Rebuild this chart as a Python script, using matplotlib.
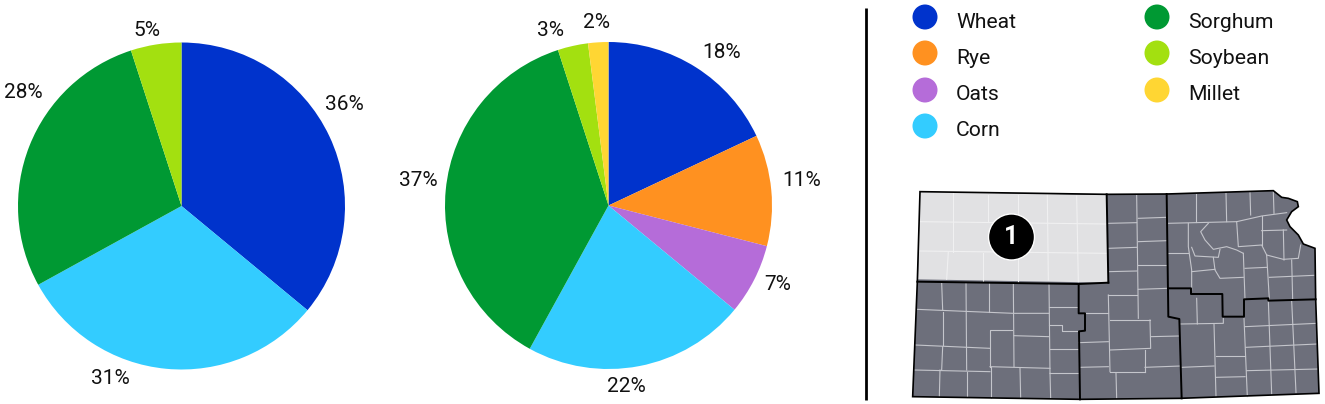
import matplotlib
matplotlib.use('Agg')
import matplotlib.pyplot as plt
import matplotlib.patches as patches

W, H = 1325, 404
plt.rcParams['font.family'] = ['Roboto', 'DejaVu Sans']

# data
crops = ['Wheat', 'Rye', 'Oats', 'Corn', 'Sorghum', 'Soybean', 'Millet']
crop_colors = ['#0033cc', '#ff9120', '#b56cd9', '#33ccff', '#009933', '#a3e010', '#ffd633']
left_values = [36, 0, 0, 31, 28, 5, 0]
right_values = [18, 11, 7, 22, 37, 3, 2]

# label positions in image pixels
left_label_xy = [(344, 105), None, None, (110, 379), (23, 93), (147, 30), None]
right_label_xy = [(722, 52), (802, 181), (778, 284), (626, 386), (418, 180), (550, 31), (597, 22)]
legend_xy = [(925, 17), (925, 53), (925, 90), (925, 126), (1157, 17), (1157, 53), (1157, 90)]

# map outlines, in coordinates of a 3x crop starting at (890, 170)
state_outline = [(90, 65), (650, 73), (830, 72), (1150, 62), (1175, 82), (1195, 85), (1222, 95), (1225, 110),
                 (1205, 125), (1190, 150), (1200, 170), (1225, 195), (1240, 222), (1275, 235), (1277, 388),
                 (1287, 670), (870, 685), (570, 688), (68, 680), (82, 335)]
region_one = [(90, 65), (650, 75), (655, 338), (84, 328)]
district_lines = [
    [(650, 73), (655, 338)],
    [(82, 335), (566, 342), (655, 338)],
    [(566, 342), (566, 430), (585, 430), (585, 482), (567, 484), (570, 688)],
    [(830, 72), (835, 440), (868, 447), (875, 685)],
    [(835, 355), (903, 355), (903, 372), (997, 372), (998, 440), (1062, 440), (1062, 388), (1135, 385),
     (1135, 392), (1277, 388)],
]
region_one_counties = [
    [(190, 70), (190, 245)], [(295, 75), (295, 155)], [(385, 75), (385, 335)], [(472, 75), (475, 330)],
    [(560, 78), (565, 335)], [(90, 155), (650, 162)], [(88, 243), (650, 250)], [(175, 245), (170, 328)],
    [(280, 250), (280, 332)],
]
county_lines = [
    [(155, 338), (158, 420)], [(228, 340), (230, 600)], [(298, 340), (298, 425)], [(370, 342), (372, 590)],
    [(477, 342), (480, 610)], [(80, 418), (370, 430), (477, 430)], [(477, 410), (560, 410)],
    [(477, 465), (515, 465), (515, 483), (567, 483)], [(160, 425), (160, 525)], [(300, 590), (300, 480), (365, 480)],
    [(372, 497), (477, 500)], [(480, 538), (567, 538)], [(480, 608), (567, 608)], [(76, 525), (300, 535)],
    [(158, 530), (155, 600)], [(72, 600), (300, 605)], [(300, 590), (480, 595)], [(150, 600), (148, 680)],
    [(232, 605), (232, 682)], [(302, 590), (302, 685)], [(390, 595), (392, 685)], [(480, 610), (482, 685)],
    [(740, 75), (745, 445)], [(655, 160), (740, 158)], [(745, 145), (828, 142)], [(655, 235), (740, 232)],
    [(745, 215), (830, 212)], [(655, 305), (740, 303)], [(745, 285), (830, 285)], [(655, 375), (740, 375)],
    [(745, 358), (832, 355)], [(655, 375), (660, 605)], [(566, 430), (655, 430)], [(567, 518), (655, 515)],
    [(570, 592), (655, 590)], [(660, 450), (780, 450)], [(780, 450), (782, 535), (660, 540)],
    [(782, 500), (868, 498)], [(765, 540), (765, 605)], [(660, 605), (765, 605)], [(765, 592), (872, 588)],
    [(678, 610), (680, 685)],
    [(918, 72), (918, 155)], [(1008, 70), (1010, 155)], [(1080, 68), (1082, 135)], [(1150, 65), (1152, 130)],
    [(832, 160), (1040, 155), (1115, 138), (1190, 128)], [(895, 160), (895, 230), (905, 300), (905, 360)],
    [(833, 248), (895, 248)], [(955, 160), (932, 185), (945, 210), (970, 238), (1010, 230), (1040, 240), (1060, 250)],
    [(1040, 155), (1045, 230), (1115, 225), (1130, 255), (1180, 268), (1225, 265), (1232, 225)],
    [(905, 232), (915, 258), (985, 262), (990, 238)], [(970, 262), (975, 300), (990, 325), (1060, 322)],
    [(905, 305), (975, 298)], [(1060, 250), (1065, 388)], [(1065, 295), (1130, 292)], [(1115, 138), (1115, 225)],
    [(1115, 182), (1190, 180)], [(1180, 180), (1182, 270)], [(1130, 255), (1138, 388)], [(1138, 322), (1272, 316)],
    [(1205, 270), (1208, 388)],
    [(920, 385), (922, 462)], [(872, 462), (1000, 460), (1000, 445)], [(972, 462), (978, 680)],
    [(978, 558), (1065, 558)], [(978, 622), (1065, 620)], [(1062, 445), (1072, 680)], [(1065, 470), (1280, 460)],
    [(1068, 532), (1282, 522)], [(1070, 602), (1285, 597)], [(1135, 392), (1145, 672)], [(1205, 392), (1218, 668)],
    [(875, 592), (972, 588)],
]


def map_xy(pts):
    return [(890 + x / 3, 170 + y / 3) for x, y in pts]


def draw_pie(fig, values, cx, cy, r):
    ax = fig.add_axes([(cx - r) / W, 1 - (cy + r) / H, 2 * r / W, 2 * r / H])
    ax.pie(values, colors=crop_colors, startangle=90, counterclock=False, radius=1)
    ax.set_xlim(-1, 1)
    ax.set_ylim(-1, 1)
    ax.set_axis_off()


fig = plt.figure(figsize=(W / 100, H / 100), dpi=100)
draw_pie(fig, left_values, 181.5, 206, 163.5)
draw_pie(fig, right_values, 608.5, 205.5, 163.5)

# overlay in image pixels
ov = fig.add_axes([0, 0, 1, 1])
ov.set_xlim(0, W)
ov.set_ylim(H, 0)
ov.set_axis_off()

for values, label_xy in ((left_values, left_label_xy), (right_values, right_label_xy)):
    for v, xy in zip(values, label_xy):
        if v > 0:
            ov.text(xy[0], xy[1], f'{v}%', fontsize=15, color='#111111', ha='center', va='center')

ov.plot([866, 866], [8, 400], color='black', lw=2, solid_capstyle='butt')

for name, color, (x, y) in zip(crops, crop_colors, legend_xy):
    ov.add_patch(patches.Circle((x, y), 12.5, facecolor=color, edgecolor='none'))
    ov.text(x + 31, y + 5, name, fontsize=15.2, color='#111111', ha='left', va='center')

# map
ov.add_patch(patches.Polygon(map_xy(state_outline), closed=True, facecolor='#6d6f7b', edgecolor='none', zorder=2))
ov.add_patch(patches.Polygon(map_xy(region_one), closed=True, facecolor='#e1e1e3', edgecolor='none', zorder=2))
for line in county_lines:
    xs, ys = zip(*map_xy(line))
    ov.plot(xs, ys, color='#c4c5cb', lw=0.8, zorder=3)
for line in region_one_counties:
    xs, ys = zip(*map_xy(line))
    ov.plot(xs, ys, color='#f0f0f1', lw=0.8, zorder=3)
for line in district_lines:
    xs, ys = zip(*map_xy(line))
    ov.plot(xs, ys, color='black', lw=1.4, zorder=4)
ov.add_patch(patches.Polygon(map_xy(state_outline), closed=True, facecolor='none', edgecolor='black', lw=1.2, zorder=4))

ov.add_patch(patches.Circle((1011.5, 237), 23, facecolor='black', edgecolor='white', lw=1, zorder=5))
ov.text(1011, 237, '1', fontsize=18, fontweight='bold', color='white', ha='center', va='center', zorder=6)

fig.savefig('out.png', dpi=100)
plt.close(fig)
